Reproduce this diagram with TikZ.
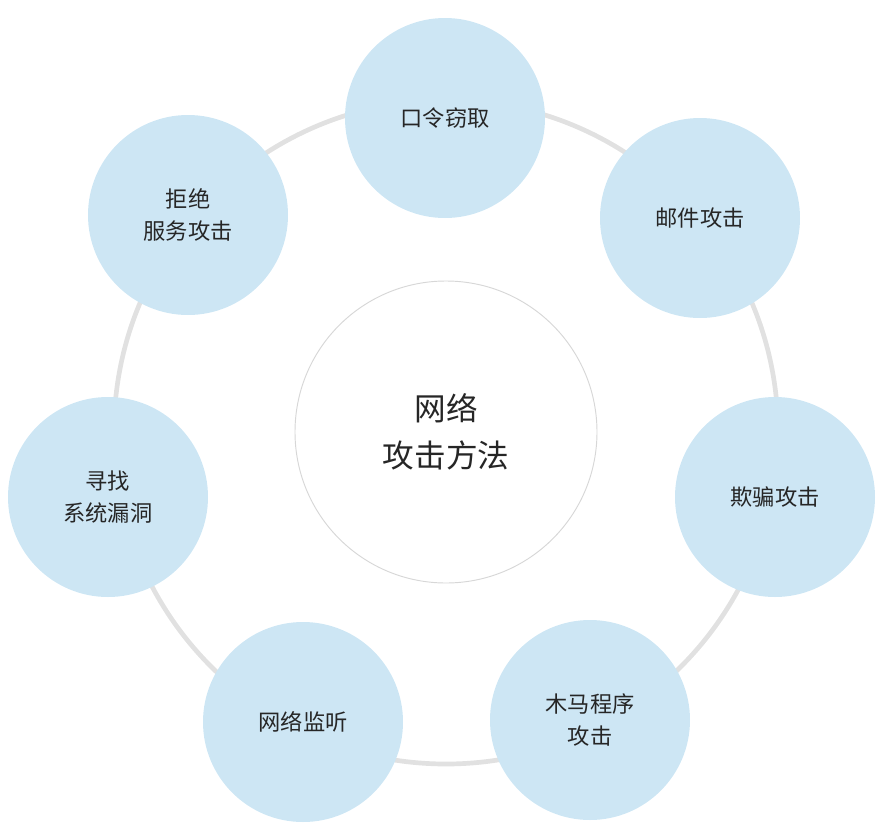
\documentclass[tikz,border=0pt]{standalone}
\usepackage{fontspec}
\setmainfont{Noto Sans CJK SC}
\begin{document}
\begin{tikzpicture}[x=0.03cm,y=-0.03cm,
  sat/.style={circle,fill=blue!4!cyan!18!white,fill={rgb,255:red,205;green,230;blue,244},minimum size=200*0.03cm,inner sep=0pt,align=center,font=\fontsize{19}{28}\selectfont,text=black!85},
  hub/.style={circle,draw={rgb,255:red,215;green,215;blue,215},line width=0.8pt,fill=white,minimum size=302*0.03cm,inner sep=0pt,align=center,font=\fontsize{27}{40}\selectfont,text=black!85}]
\useasboundingbox (0,0) rectangle (884,832);
\coordinate (c) at (446,432);
\draw[line width=4pt,draw={rgb,255:red,225;green,225;blue,225}] (c) circle[radius=332*0.03cm];
\node[hub] (hub) at (c) {网络\\攻击方法};
\node[sat] (a) at (445,118) {口令窃取};
\node[sat] (b) at (700,218) {邮件攻击};
\node[sat] (d) at (775,497) {欺骗攻击};
\node[sat] (e) at (590,720) {木马程序\\攻击};
\node[sat] (f) at (303,722) {网络监听};
\node[sat] (g) at (108,497) {寻找\\系统漏洞};
\node[sat] (h) at (188,215) {拒绝\\服务攻击};
\end{tikzpicture}
\end{document}
